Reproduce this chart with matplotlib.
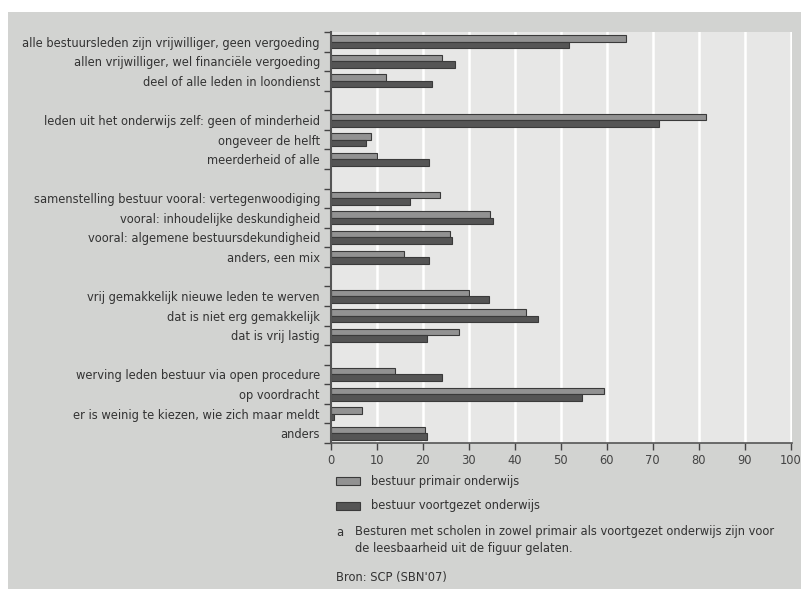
import matplotlib
matplotlib.use("Agg")
import matplotlib.pyplot as plt
from matplotlib.patches import Rectangle
import numpy as np

categories = [
    "alle bestuursleden zijn vrijwilliger, geen vergoeding",
    "allen vrijwilliger, wel financiële vergoeding",
    "deel of alle leden in loondienst",
    "leden uit het onderwijs zelf: geen of minderheid",
    "ongeveer de helft",
    "meerderheid of alle",
    "samenstelling bestuur vooral: vertegenwoodiging",
    "vooral: inhoudelijke deskundigheid",
    "vooral: algemene bestuursdekundigheid",
    "anders, een mix",
    "vrij gemakkelijk nieuwe leden te werven",
    "dat is niet erg gemakkelijk",
    "dat is vrij lastig",
    "werving leden bestuur via open procedure",
    "op voordracht",
    "er is weinig te kiezen, wie zich maar meldt",
    "anders",
]
group_sizes = [3, 3, 4, 3, 4]
primair = [64.1, 24.1, 12.0, 81.5, 8.7, 10.1, 23.7, 34.7, 25.9, 15.9,
           30.1, 42.5, 27.8, 13.9, 59.5, 6.7, 20.4]
voortgezet = [51.7, 27.0, 21.9, 71.3, 7.6, 21.4, 17.1, 35.2, 26.4, 21.4,
              34.4, 45.1, 20.9, 24.1, 54.6, 0.7, 20.9]
series_labels = ["bestuur primair onderwijs", "bestuur voortgezet onderwijs"]
xticks = list(range(0, 101, 10))
footnote = ("Besturen met scholen in zowel primair als voortgezet onderwijs zijn voor\n"
            "de leesbaarheid uit de figuur gelaten.")
source = "Bron: SCP (SBN'07)"

W, H = 801, 589
fig = plt.figure(figsize=(W / 100, H / 100), dpi=100)
fig.patch.set_facecolor("white")
fig.patches.append(Rectangle((8 / W, 0), 1, 1 - 12 / H, transform=fig.transFigure,
                             facecolor="#d2d3d1", edgecolor="none", zorder=-10))

# positions with gaps between groups
positions = []
pos = 0
for gi, n in enumerate(group_sizes):
    for _ in range(n):
        positions.append(pos)
        pos += 1
    pos += 1
nslots = pos - 1  # 21

ax = fig.add_axes([331 / W, 1 - 443 / H, (792 - 331) / W, (443 - 32) / H])
ax.set_zorder(2)
ax.set_facecolor("#e7e7e6")
positions = np.array(positions)
bh = 0.33
light_c = "#929292"
dark_c = "#555555"
edge = "#3a3a3a"
ax.barh(positions - bh / 2, primair, height=bh, color=light_c, edgecolor=edge, linewidth=0.8, zorder=3)
ax.barh(positions + bh / 2, voortgezet, height=bh, color=dark_c, edgecolor=edge, linewidth=0.8, zorder=3)

ax.set_xlim(0, 100.3)
ax.set_ylim(nslots - 0.5, -0.5)
ax.set_xticks(xticks)
ax.set_xticklabels([str(t) for t in xticks], fontsize=8.3, color="#444444")
ax.set_yticks(positions)
ax.set_yticklabels(categories, fontsize=8.3, color="#333333")
ax.tick_params(axis="y", length=0, pad=8)
ax.set_yticks(np.arange(-0.5, nslots, 1.0), minor=True)
ax.tick_params(axis="y", which="minor", length=5, width=1, color="#444444", direction="out")
ax.tick_params(axis="x", length=5, width=1, color="#444444", direction="out", pad=3)
for t in xticks[1:]:
    ax.axvline(t, color="white", linewidth=1.8, zorder=1)
for s in ["top", "right"]:
    ax.spines[s].set_visible(False)
ax.spines["left"].set_color("#555555")
ax.spines["left"].set_linewidth(1.5)
ax.spines["bottom"].set_color("#555555")
ax.spines["bottom"].set_linewidth(1.2)
ax.spines["left"].set_zorder(4)

# legend
txtc = "#333333"
fs = 8.3
for i, (lab, c) in enumerate(zip(series_labels, [light_c, dark_c])):
    ytop = [477, 502][i]
    fig.patches.append(Rectangle((336 / W, 1 - (ytop + 8) / H), 24 / W, 8 / H,
                                 transform=fig.transFigure, facecolor=c,
                                 edgecolor=edge, linewidth=0.8, zorder=2))
    fig.text(371 / W, 1 - (ytop + 4) / H, lab, fontsize=fs, color=txtc, va="center", ha="left")

fig.text(336 / W, 1 - 532 / H, "a", fontsize=fs, color=txtc, va="center", ha="left")
fig.text(355 / W, 1 - 540 / H, footnote, fontsize=fs, color=txtc, va="center", ha="left",
         linespacing=1.45)
fig.text(336 / W, 1 - 577 / H, source, fontsize=fs, color=txtc, va="center", ha="left")

fig.savefig("out.png", dpi=100)
